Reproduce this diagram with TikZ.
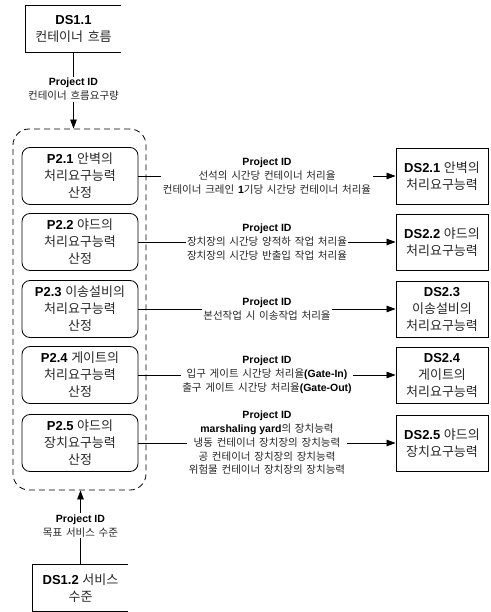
\documentclass[tikz,border=0pt]{standalone}
\usepackage{fontspec}
\setmainfont{Liberation Sans}
\newfontfamily\kr[WordSpace=1.6]{Noto Sans CJK KR}
\usetikzlibrary{arrows.meta}
% Korean text segment
\newcommand{\K}[1]{{\kr\color{black!85}#1}}

\begin{document}
\begin{tikzpicture}[x=1pt,y=-1pt,
  boxfont/.style={font=\fontsize{13}{17}\selectfont},
  proc/.style={draw, boxfont, rounded corners=8pt, minimum width=116pt,
    minimum height=57pt, align=center, inner sep=0pt, line width=0.8pt},
  dstore/.style={draw, boxfont, minimum width=92pt, minimum height=56pt,
    align=center, inner sep=0pt, line width=0.8pt},
  openstore/.style={boxfont, minimum width=95pt, minimum height=47pt,
    align=center, inner sep=0pt},
  openline/.style={line width=0.8pt},
  group/.style={draw, dash pattern=on 6pt off 4pt, rounded corners=16pt,
    line width=0.8pt, minimum width=133pt, minimum height=361pt, inner sep=0pt},
  flow/.style={draw, line width=0.7pt, -{Triangle[length=9pt,width=6.5pt]}},
  lbl/.style={fill=white, align=center, inner sep=1.5pt,
    font=\fontsize{10.5}{13.8}\selectfont}
]
\useasboundingbox (0,0) rectangle (490,612);

% external data stores (open on the right)
\node[openstore] (ds11) at (73.5,29) {\textbf{DS1.1}\\\K{컨테이너 흐름}};
\draw[openline] (ds11.north east) -- (ds11.north west) -- (ds11.south west) -- (ds11.south east);

\node[openstore] (ds12) at (80.5,588) {\textbf{DS1.2} \K{서비스}\\\K{수준}};
\draw[openline] (ds12.north east) -- (ds12.north west) -- (ds12.south west) -- (ds12.south east);

% process group
\node[group] (grp) at (79.5,309.5) {};

% processes
\node[proc] (p21) at (80,176) {\textbf{P2.1} \K{안벽의}\\\K{처리요구능력}\\\K{산정}};
\node[proc] (p22) at (80,242) {\textbf{P2.2} \K{야드의}\\\K{처리요구능력}\\\K{산정}};
\node[proc] (p23) at (80,309) {\textbf{P2.3} \K{이송설비의}\\\K{처리요구능력}\\\K{산정}};
\node[proc] (p24) at (80,375) {\textbf{P2.4} \K{게이트의}\\\K{처리요구능력}\\\K{산정}};
\node[proc] (p25) at (80,443) {\textbf{P2.5} \K{야드의}\\\K{장치요구능력}\\\K{산정}};

% output data stores
\node[dstore] (ds21) at (442,176) {\textbf{DS2.1} \K{안벽의}\\\K{처리요구능력}};
\node[dstore] (ds22) at (442,242) {\textbf{DS2.2} \K{야드의}\\\K{처리요구능력}};
\node[dstore] (ds23) at (442,309) {\textbf{DS2.3}\\\K{이송설비의}\\\K{처리요구능력}};
\node[dstore] (ds24) at (442,375) {\textbf{DS2.4}\\\K{게이트의}\\\K{처리요구능력}};
\node[dstore] (ds25) at (442,443) {\textbf{DS2.5} \K{야드의}\\\K{장치요구능력}};

% inputs
\draw[flow] (ds11.south) -- (ds11.south |- grp.north)
  node[lbl, pos=0.48] {\textbf{Project ID}\\\K{컨테이너 흐름요구량}};
\draw[flow] (ds12.north) -- (ds12.north |- grp.south)
  node[lbl, pos=0.52] {\textbf{Project ID}\\\K{목표 서비스 수준}};

% outputs
\draw[flow] (p21) -- (ds21) node[lbl, midway]
  {\textbf{Project ID}\\\K{선석의 시간당 컨테이너 처리율}\\\K{컨테이너 크레인 }\textbf{1}\K{기당 시간당 컨테이너 처리율}};
\draw[flow] (p22) -- (ds22) node[lbl, midway]
  {\textbf{Project ID}\\\K{장치장의 시간당 양적하 작업 처리율}\\\K{장치장의 시간당 반출입 작업 처리율}};
\draw[flow] (p23) -- (ds23) node[lbl, midway]
  {\textbf{Project ID}\\\K{본선작업 시 이송작업 처리율}};
\draw[flow] (p24) -- (ds24) node[lbl, midway]
  {\textbf{Project ID}\\\K{입구 게이트 시간당 처리율}\textbf{(Gate-In)}\\\K{출구 게이트 시간당 처리율}\textbf{(Gate-Out)}};
\draw[flow] (p25) -- (ds25) node[lbl, midway]
  {\textbf{Project ID}\\\textbf{marshaling yard}\K{의 장치능력}\\\K{냉동 컨테이너 장치장의 장치능력}\\\K{공 컨테이너 장치장의 장치능력}\\\K{위험물 컨테이너 장치장의 장치능력}};
\end{tikzpicture}
\end{document}
